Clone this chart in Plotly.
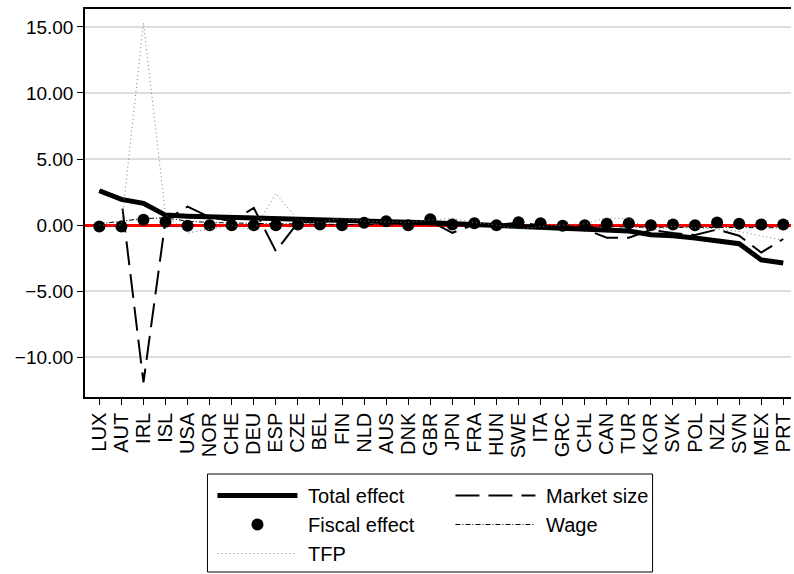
import plotly.graph_objects as go

countries = ["LUX", "AUT", "IRL", "ISL", "USA", "NOR", "CHE", "DEU", "ESP", "CZE",
             "BEL", "FIN", "NLD", "AUS", "DNK", "GBR", "JPN", "FRA", "HUN", "SWE",
             "ITA", "GRC", "CHL", "CAN", "TUR", "KOR", "SVK", "POL", "NZL", "SVN",
             "MEX", "PRT"]

total_effect = [2.60, 1.95, 1.65, 0.76, 0.68, 0.63, 0.58, 0.53, 0.47, 0.38,
                0.33, 0.32, 0.30, 0.27, 0.22, 0.18, 0.10, 0.05, -0.02, -0.10,
                -0.20, -0.27, -0.30, -0.40, -0.45, -0.72, -0.80, -0.98, -1.22, -1.40,
                -2.63, -2.86]

market_size = [2.60, 1.95, -11.90, 0.40, 1.40, 0.60, 0.30, 1.30, -1.97, 0.20,
               0.25, 0.30, 0.30, 0.25, 0.20, 0.30, -0.58, 0.05, 0.00, 0.20,
               -0.05, -0.25, -0.30, -0.95, -0.95, -0.35, -0.60, -0.75, -0.33, -0.80,
               -2.07, -1.05]

fiscal_effect = [-0.10, -0.10, 0.40, 0.25, -0.05, 0.00, 0.00, 0.00, 0.00, 0.05,
                 0.05, 0.00, 0.18, 0.30, 0.00, 0.45, 0.05, 0.15, 0.00, 0.22,
                 0.15, -0.05, 0.00, 0.10, 0.15, 0.00, 0.05, 0.00, 0.20, 0.10,
                 0.05, 0.05]

wage = [0.10, 0.30, 0.50, 0.55, 0.30, 0.20, 0.15, 0.10, 0.10, 0.10,
        0.05, 0.05, 0.05, 0.05, 0.00, 0.00, 0.00, 0.00, -0.05, -0.05,
        -0.05, -0.10, -0.10, -0.10, -0.15, -0.15, -0.15, -0.18, -0.18, -0.20,
        -0.20, -0.20]

tfp = [0.00, 0.00, 15.30, 0.80, -0.60, -0.30, 0.00, -0.40, 2.40, 0.38,
       0.20, 0.55, 0.30, 0.25, 0.20, 0.40, 0.50, 0.20, 0.00, -0.30,
       -0.10, 0.00, 0.10, 0.55, 0.50, -0.40, -0.10, -0.20, -0.30, -0.48,
       -0.80, -1.15]

y_ticks = [-10, -5, 0, 5, 10, 15]

FONT = "Liberation Sans, Arial, sans-serif"
GAP = "\u00a0"  # small space between legend symbol and label

fig = go.Figure()

fig.add_trace(go.Scatter(
    x=countries, y=total_effect, name=GAP + "Total effect", mode="lines",
    line=dict(color="black", width=5), legend="legend"))

fig.add_trace(go.Scatter(
    x=countries, y=market_size, name=GAP + "Market size", mode="lines",
    line=dict(color="black", width=2, dash="24px,9px"), legend="legend2"))

fig.add_trace(go.Scatter(
    x=countries, y=fiscal_effect, name=GAP + "Fiscal effect", mode="markers",
    marker=dict(color="black", size=12), legend="legend"))

fig.add_trace(go.Scatter(
    x=countries, y=wage, name=GAP + "Wage", mode="lines",
    line=dict(color="black", width=1, dash="5px,2px,1px,2px"), legend="legend2"))

fig.add_trace(go.Scatter(
    x=countries, y=tfp, name=GAP + "TFP", mode="lines",
    line=dict(color="#7a7a7a", width=1, dash="1px,3px"), legend="legend"))

plot_l, plot_r, plot_t, plot_b = 85, 794, 9, 397
W, H = 794, 574


def px_x(px):
    return (px - plot_l) / (plot_r - plot_l)


def px_y(py):
    return (plot_b - py) / (plot_b - plot_t)


legend_common = dict(
    orientation="v", xanchor="left", yanchor="top",
    font=dict(family=FONT, size=20, color="black"),
    bgcolor="rgba(0,0,0,0)", borderwidth=0, itemwidth=80,
    tracegroupgap=0,
)

fig.update_layout(
    width=W, height=H,
    margin=dict(l=plot_l, r=W - plot_r, t=plot_t, b=H - plot_b),
    paper_bgcolor="white", plot_bgcolor="white",
    font=dict(family=FONT, size=19, color="black"),
    showlegend=True,
    legend=dict(x=px_x(213), y=px_y(476), **legend_common),
    legend2=dict(x=px_x(452), y=px_y(476), **legend_common),
    shapes=[dict(type="rect", xref="paper", yref="paper",
                 x0=px_x(208), x1=px_x(655), y0=px_y(572), y1=px_y(474),
                 line=dict(color="black", width=1), fillcolor="rgba(0,0,0,0)")],
)

fig.update_xaxes(
    type="category", range=[-0.65, 31.35],
    tickmode="linear", tick0=0, dtick=1,
    tickangle=-90, ticks="outside", ticklen=6, tickcolor="black", tickwidth=1,
    showline=True, linecolor="black", linewidth=1.5, mirror=True,
    showgrid=False, tickfont=dict(family=FONT, size=20, color="black"),
)

fig.update_yaxes(
    range=[-13.0, 16.35], tickvals=y_ticks, tickformat=".2f",
    ticks="outside", ticklen=6, tickcolor="black", tickwidth=1,
    showline=True, linecolor="black", linewidth=1.5, mirror=False,
    showgrid=True, gridcolor="#dedede", gridwidth=2,
    zeroline=True, zerolinecolor="red", zerolinewidth=3,
    tickfont=dict(family=FONT, size=19, color="black"),
)

fig.write_html("out.html")
